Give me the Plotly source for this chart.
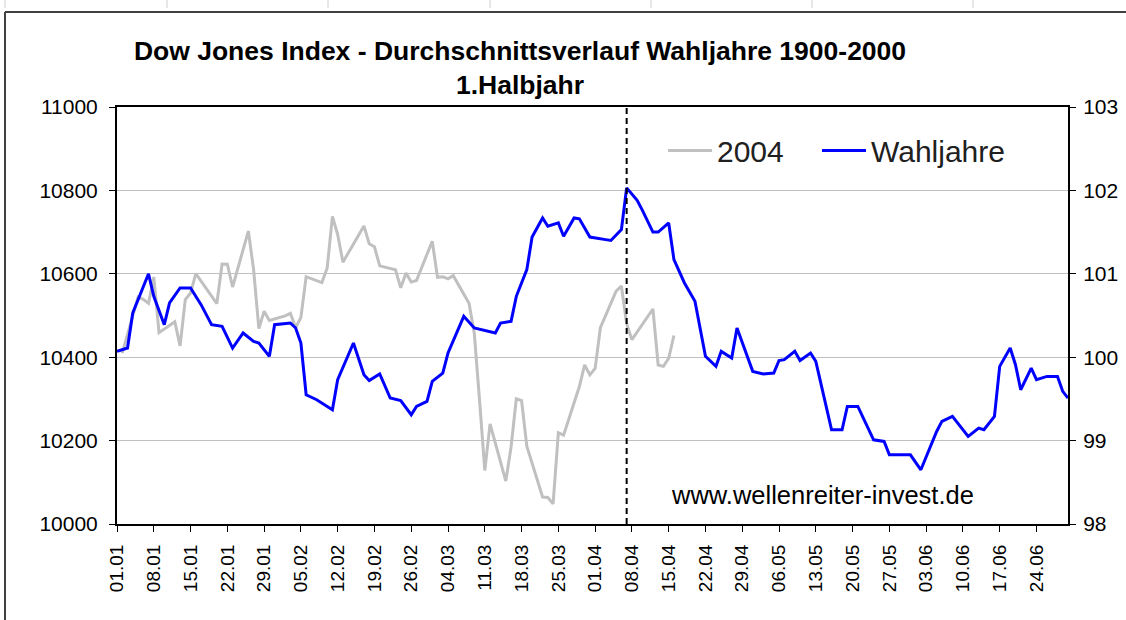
import pandas as pd
import plotly.graph_objects as go

# ---------------- data ----------------
dow_dates = [
    "2004-01-02", "2004-01-05", "2004-01-06", "2004-01-07", "2004-01-08", "2004-01-09",
    "2004-01-12", "2004-01-13", "2004-01-14", "2004-01-15", "2004-01-16", "2004-01-20",
    "2004-01-21", "2004-01-22", "2004-01-23", "2004-01-26", "2004-01-27", "2004-01-28",
    "2004-01-29", "2004-01-30",
    "2004-02-02", "2004-02-03", "2004-02-04", "2004-02-05", "2004-02-06", "2004-02-09",
    "2004-02-10", "2004-02-11", "2004-02-12", "2004-02-13", "2004-02-17", "2004-02-18",
    "2004-02-19", "2004-02-20", "2004-02-23", "2004-02-24", "2004-02-25", "2004-02-26",
    "2004-02-27",
    "2004-03-01", "2004-03-02", "2004-03-03", "2004-03-04", "2004-03-05", "2004-03-08",
    "2004-03-09", "2004-03-10", "2004-03-11", "2004-03-12", "2004-03-15", "2004-03-16",
    "2004-03-17", "2004-03-18", "2004-03-19", "2004-03-22", "2004-03-23", "2004-03-24",
    "2004-03-25", "2004-03-26", "2004-03-29", "2004-03-30", "2004-03-31",
    "2004-04-01", "2004-04-02", "2004-04-05", "2004-04-06", "2004-04-07", "2004-04-08",
    "2004-04-12", "2004-04-13", "2004-04-14", "2004-04-15", "2004-04-16",
]
dow_2004 = [
    10409.85, 10544.07, 10538.66, 10529.03, 10592.44, 10458.89,
    10485.18, 10427.18, 10538.37, 10553.85, 10600.51, 10528.66,
    10623.62, 10623.18, 10568.29, 10702.51, 10609.92, 10468.37,
    10510.29, 10488.07,
    10499.18, 10505.18, 10470.74, 10495.55, 10593.03, 10579.03,
    10613.85, 10737.70, 10694.07, 10627.85, 10714.88, 10671.99,
    10664.73, 10619.03, 10609.62, 10566.37, 10601.62, 10580.14,
    10583.92,
    10678.14, 10591.48, 10593.11, 10588.00, 10595.55, 10529.48,
    10457.59, 10296.89, 10128.38, 10240.08, 10102.89, 10184.67,
    10300.30, 10295.78, 10186.60, 10064.75, 10063.64, 10048.23,
    10218.82, 10212.97, 10329.63, 10381.70, 10357.70,
    10373.33, 10470.59, 10558.37, 10570.81, 10480.15, 10442.03,
    10515.56, 10381.28, 10377.95, 10397.46, 10451.97,
]

wahl_dates = [
    "2004-01-01", "2004-01-03", "2004-01-04", "2004-01-06", "2004-01-07", "2004-01-08",
    "2004-01-10", "2004-01-11", "2004-01-13", "2004-01-15", "2004-01-17", "2004-01-19",
    "2004-01-21", "2004-01-23", "2004-01-25", "2004-01-27", "2004-01-28", "2004-01-30",
    "2004-01-31", "2004-02-03", "2004-02-04", "2004-02-05", "2004-02-06", "2004-02-08",
    "2004-02-11", "2004-02-12", "2004-02-15", "2004-02-17", "2004-02-18", "2004-02-20",
    "2004-02-22", "2004-02-24", "2004-02-26", "2004-02-27", "2004-02-29", "2004-03-01",
    "2004-03-03", "2004-03-04", "2004-03-05", "2004-03-07", "2004-03-09", "2004-03-13",
    "2004-03-14", "2004-03-16", "2004-03-17", "2004-03-19", "2004-03-20", "2004-03-22",
    "2004-03-23", "2004-03-25", "2004-03-26", "2004-03-28", "2004-03-29", "2004-03-31",
    "2004-04-03", "2004-04-04", "2004-04-06", "2004-04-07", "2004-04-09", "2004-04-10",
    "2004-04-12", "2004-04-13", "2004-04-15", "2004-04-16", "2004-04-18", "2004-04-20",
    "2004-04-22", "2004-04-24", "2004-04-25", "2004-04-27", "2004-04-28", "2004-05-01",
    "2004-05-03", "2004-05-05", "2004-05-06", "2004-05-07", "2004-05-09", "2004-05-10",
    "2004-05-12", "2004-05-13", "2004-05-16", "2004-05-18", "2004-05-19", "2004-05-21",
    "2004-05-24", "2004-05-26", "2004-05-27", "2004-05-31", "2004-06-02", "2004-06-05",
    "2004-06-06", "2004-06-08", "2004-06-11", "2004-06-13", "2004-06-14", "2004-06-16",
    "2004-06-17", "2004-06-19", "2004-06-20", "2004-06-21", "2004-06-23", "2004-06-24",
    "2004-06-26", "2004-06-28", "2004-06-29", "2004-06-30",
]
wahljahre = [
    100.07, 100.11, 100.53, 100.85, 101.00, 100.73,
    100.39, 100.65, 100.83, 100.83, 100.63, 100.39,
    100.37, 100.11, 100.29, 100.19, 100.17, 100.01,
    100.39, 100.41, 100.35, 100.17, 99.55, 99.49,
    99.37, 99.73, 100.17, 99.79, 99.72, 99.80,
    99.51, 99.48, 99.31, 99.41, 99.47, 99.71,
    99.81, 100.05, 100.19, 100.49, 100.35, 100.29,
    100.41, 100.43, 100.73, 101.05, 101.44, 101.67,
    101.57, 101.61, 101.45, 101.67, 101.66, 101.44,
    101.41, 101.40, 101.53, 102.03, 101.88, 101.76,
    101.50, 101.50, 101.61, 101.17, 100.89, 100.67,
    100.01, 99.89, 100.07, 99.99, 100.35, 99.83,
    99.80, 99.81, 99.96, 99.97, 100.07, 99.96,
    100.05, 99.95, 99.13, 99.13, 99.41, 99.41,
    99.01, 98.99, 98.83, 98.83, 98.65, 99.11,
    99.23, 99.29, 99.05, 99.15, 99.13, 99.29,
    99.89, 100.11, 99.91, 99.61, 99.87, 99.73,
    99.77, 99.77, 99.59, 99.51,
]

marker_date = "2004-04-07"
title_text = "Dow Jones Index - Durchschnittsverlauf Wahljahre 1900-2000<br>1.Halbjahr"
watermark = "www.wellenreiter-invest.de"

# ---------------- figure ----------------
W, H = 1126, 620
ML, MR, MT, MB = 117, 58, 107, 96
FONT = "Liberation Sans, Arial, sans-serif"
pw, ph = W - ML - MR, H - MT - MB

tick_dates = pd.date_range("2004-01-01", "2004-06-24", freq="7D")

fig = go.Figure()
fig.add_trace(go.Scatter(
    x=dow_dates, y=dow_2004, name="2004", mode="lines",
    line=dict(color="#c0c0c0", width=3), yaxis="y", legend="legend",
))
fig.add_trace(go.Scatter(
    x=wahl_dates, y=wahljahre, name="Wahljahre", mode="lines",
    line=dict(color="#0000ff", width=3), yaxis="y2", legend="legend2",
))

legend_common = dict(
    orientation="h", yanchor="top", xanchor="left",
    bgcolor="rgba(0,0,0,0)", font=dict(size=30, color="#202020"),
    itemwidth=44,
)

fig.update_layout(
    width=W, height=H,
    margin=dict(l=ML, r=MR, t=MT, b=MB, autoexpand=False),
    paper_bgcolor="white", plot_bgcolor="white",
    font=dict(family=FONT, color="black", size=21),
    title=dict(
        text=title_text, x=520 / W, xanchor="center", xref="container",
        y=1 - 60 / H, yanchor="top",
        font=dict(family=FONT, size=26.5, color="black", weight="bold"),
    ),
    xaxis=dict(
        type="date", range=["2004-01-01", "2004-06-30"],
        tickmode="array", tickvals=list(tick_dates),
        ticktext=[d.strftime("%d.%m") for d in tick_dates],
        tickangle=-90, ticks="outside", ticklen=6, tickcolor="black",
        showline=True, linecolor="black", linewidth=2, mirror=True,
        showgrid=False, zeroline=False,
        tickfont=dict(size=19), ticklabelstandoff=5,
    ),
    yaxis=dict(
        range=[10000, 11000], dtick=200, tick0=10000, tickformat="d",
        ticks="outside", ticklen=6, tickcolor="black",
        showline=True, linecolor="black", linewidth=2,
        showgrid=True, gridcolor="#c0c0c0", gridwidth=1,
        zeroline=False, tickfont=dict(size=21), ticklabelstandoff=7,
    ),
    yaxis2=dict(
        range=[98, 103], dtick=1, tick0=98, overlaying="y", side="right",
        ticks="outside", ticklen=6, tickcolor="black",
        showline=True, linecolor="black", linewidth=2,
        showgrid=False, zeroline=False, tickfont=dict(size=21),
        ticklabelstandoff=3,
    ),
    legend=dict(x=(663 - ML) / pw, y=0.958, **legend_common),
    legend2=dict(x=(817 - ML) / pw, y=0.958, **legend_common),
    showlegend=True,
)

# dashed vertical marker line
fig.add_shape(type="line", x0=marker_date, x1=marker_date, xref="x",
              y0=0, y1=1, yref="paper",
              line=dict(color="black", width=2, dash="6px,4px"))

# watermark
fig.add_annotation(text=watermark, xref="paper", yref="paper",
                   x=(822 - ML) / pw, y=(H - MB - 495) / ph,
                   showarrow=False, font=dict(size=25.5, color="black"),
                   xanchor="center", yanchor="middle")

# outer chart frame (top and left edges visible in the reference)
def px_x(p):
    return (p - ML) / pw
def px_y(p):
    return (H - MB - p) / ph
fig.add_shape(type="line", xref="paper", yref="paper",
              x0=px_x(5), x1=px_x(W), y0=px_y(12), y1=px_y(12),
              line=dict(color="#404040", width=2))
fig.add_shape(type="line", xref="paper", yref="paper",
              x0=px_x(5), x1=px_x(5), y0=px_y(12), y1=px_y(H),
              line=dict(color="#404040", width=2))
for cx in [5, 167, 328, 490, 651, 812, 973]:
    fig.add_shape(type="line", xref="paper", yref="paper",
                  x0=px_x(cx), x1=px_x(cx), y0=px_y(0), y1=px_y(8),
                  line=dict(color="#d0d0d0", width=1))

fig.write_html("out.html", config={"displayModeBar": False},
               post_script="document.body.style.margin='0';")
